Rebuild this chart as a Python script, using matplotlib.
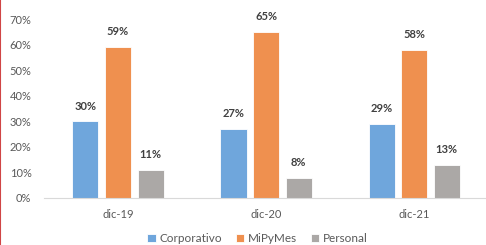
import matplotlib.pyplot as plt
import numpy as np
from matplotlib.lines import Line2D

plt.rcParams['font.family'] = ['Lato', 'DejaVu Sans']

periods = ["dic-19", "dic-20", "dic-21"]
series = ["Corporativo", "MiPyMes", "Personal"]
corporativo = [30, 27, 29]
mipymes = [59, 65, 58]
personal = [11, 8, 13]
colors = ["#6fa6dc", "#ef904f", "#aba8a6"]

fig = plt.figure(figsize=(4.86, 2.45), dpi=100)
ax = fig.add_axes([0.0905, 0.192, 0.914, 0.73])

x = np.arange(len(periods))
width = 0.176
offset = 0.22
for i, (name, vals) in enumerate(zip(series, [corporativo, mipymes, personal])):
    bars = ax.bar(x + (i - 1) * offset, vals, width, color=colors[i], label=name,
                  edgecolor="white", linewidth=0.6)
    for b, v in zip(bars, vals):
        ax.annotate(f"{v}%", (b.get_x() + b.get_width() / 2, v), xytext=(0, 7),
                    textcoords="offset points", ha="center", va="bottom",
                    fontsize=8, fontweight="bold", color="#404040")

ax.set_xlim(-0.5, 2.5)
ax.set_ylim(0, 70)
ax.set_yticks(range(0, 71, 10))
ax.set_yticklabels([f"{v}%" for v in range(0, 71, 10)])
ax.set_xticks(x)
ax.set_xticklabels(periods)
ax.tick_params(axis="both", length=0, labelsize=8, colors="#595959")
ax.tick_params(axis="y", pad=9)
ax.tick_params(axis="x", pad=8)
for s in ["top", "right", "left"]:
    ax.spines[s].set_visible(False)
ax.spines["bottom"].set_color("#d9d9d9")

fig.legend(loc="center", bbox_to_anchor=(0.53, 0.025), ncol=3, frameon=False,
           fontsize=8.5, handlelength=0.7, handleheight=0.7, columnspacing=1.2,
           handletextpad=0.3, labelcolor="#595959")

# red border on left edge
fig.add_artist(Line2D([0.001, 0.001], [0, 1], transform=fig.transFigure,
                      color="#d04545", linewidth=1.5))

fig.savefig("out.png", dpi=100)
